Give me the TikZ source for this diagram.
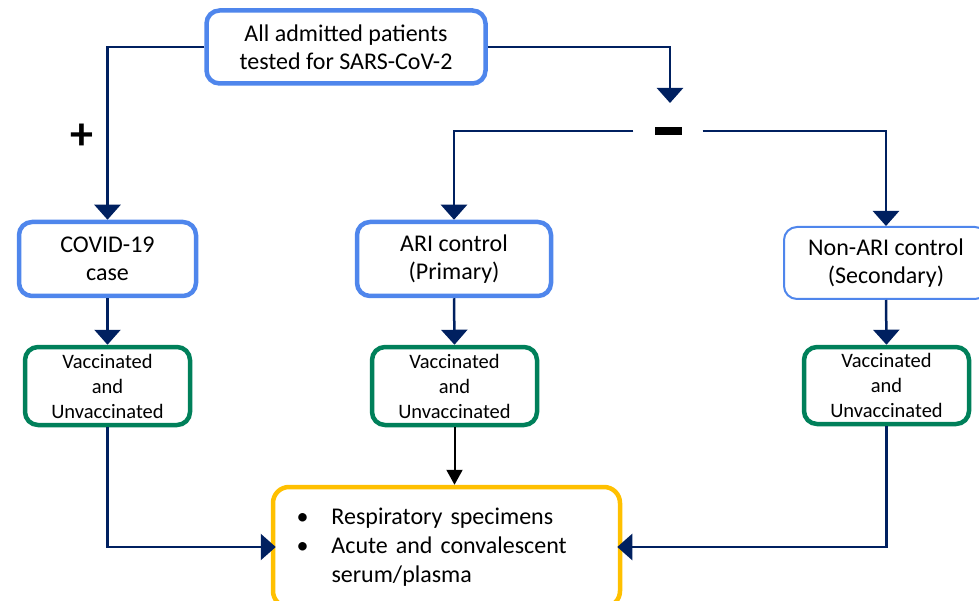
\documentclass[tikz,border=0pt]{standalone}
\usepackage{fontspec}
\setmainfont{Carlito}
\usepackage{tikz}
\usetikzlibrary{arrows.meta}
\definecolor{navy}{HTML}{002060}
\definecolor{boxblue}{HTML}{4F86EC}
\definecolor{boxgreen}{HTML}{00805A}
\definecolor{boxyellow}{HTML}{FFC000}

\begin{document}
\begin{tikzpicture}[x=1pt,y=-1pt,
  bluebox/.style={draw=boxblue,line width=4.5pt,rounded corners=13pt,fill=white,
    align=center,font=\fontsize{24}{28}\selectfont,minimum height=74pt},
  greenbox/.style={draw=boxgreen,line width=4.5pt,rounded corners=13pt,
    align=center,font=\fontsize{20.5}{25}\selectfont,minimum width=165pt,minimum height=78pt},
  navyarrow/.style={draw=navy,line width=2.5pt,-{Triangle[width=26pt,length=15pt]}},
  navyline/.style={draw=navy,line width=2.5pt}]
\useasboundingbox (0,0) rectangle (979,601);
% top
\node[bluebox,minimum width=279pt,minimum height=73pt] (all) at (346,47) {All admitted patients\\tested for SARS-CoV-2};
\node[font=\fontsize{46}{50}\selectfont\bfseries] (plus) at (82,137) {+};
\node[inner xsep=21pt,inner ysep=0pt] (minus) at (668,131) {\rule[-4pt]{27pt}{8pt}};
\coordinate (drop) at (670,103);
% groups
\node[bluebox,minimum width=177pt] (covid) at (107.5,259) {COVID-19\\case};
\node[bluebox,minimum width=194pt] (ari) at (454,259) {ARI control\\(Primary)};
\node[bluebox,line width=2pt,minimum width=204pt,minimum height=72pt] (nonari) at (886,263) {Non-ARI control\\(Secondary)};
\node[greenbox] (covidvac) at (107.5,386) {Vaccinated\\and\\Unvaccinated};
\node[greenbox] (arivac) at (454.5,386) {Vaccinated\\and\\Unvaccinated};
\node[greenbox,minimum height=77pt] (nonarivac) at (886.5,385.5) {Vaccinated\\and\\Unvaccinated};
% specimens
\node[draw=boxyellow,line width=4.5pt,rounded corners=16pt,minimum width=347pt,minimum height=120pt,
  text width=300pt,align=left,font=\fontsize{24}{29}\selectfont] (spec) at (446.5,547)
  {\makebox[35pt][l]{\textbullet}Respiratory specimens\\
   \makebox[35pt][l]{\textbullet}Acute and convalescent\\
   \hspace*{35pt}serum/plasma};
% connectors
\draw[navyarrow] (all.west) -| (covid.north);
\draw[navyarrow] (all.east) -| (drop);
\draw[navyarrow] (minus.west) -| (ari.north);
\draw[navyarrow] (minus.east) -| (nonari.north);
\draw[navyarrow] (covid.south) -- (covidvac.north);
\draw[navyarrow] (ari.south) -- (arivac.north);
\draw[navyarrow] (nonari.south) -- (nonarivac.north);
\draw[line width=2pt,-{Triangle[width=16pt,length=15pt]}] (arivac.south) -- (arivac.south |- spec.north);
\draw[navyarrow] (covidvac.south) |- ([xshift=5pt]spec.west);
\draw[navyarrow] (nonarivac.south) |- ([xshift=-5pt]spec.east);
\end{tikzpicture}
\end{document}
